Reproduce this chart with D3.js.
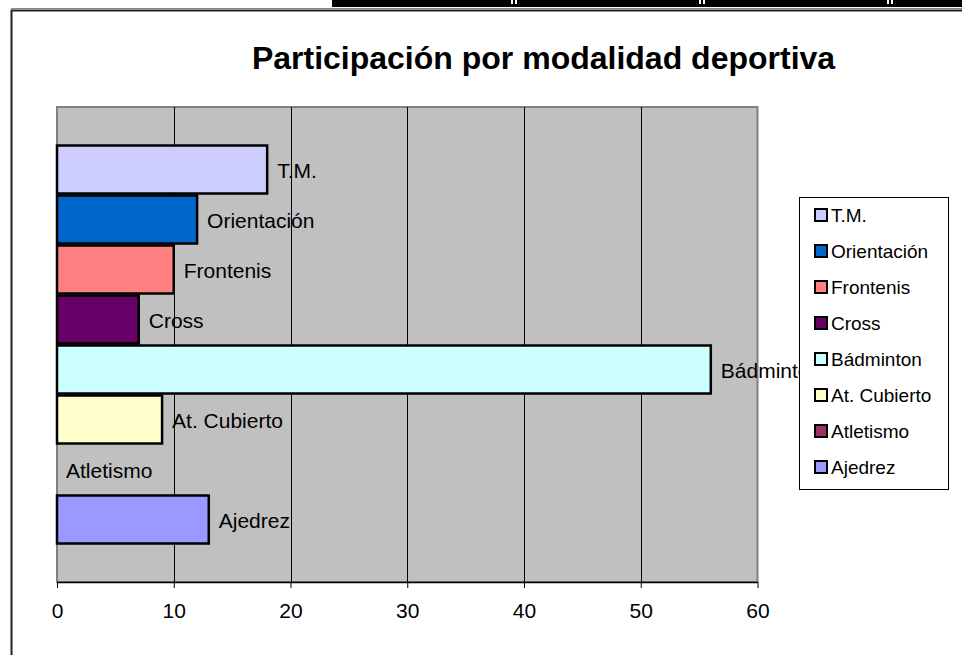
<!DOCTYPE html>
<html>
<head>
<meta charset="utf-8">
<script src="https://cdn.jsdelivr.net/npm/d3@7/dist/d3.min.js"></script>
<style>
  html, body { margin: 0; padding: 0; background: #fff; }
  svg { display: block; font-family: "Liberation Sans", Arial, sans-serif; }
</style>
</head>
<body>
<svg id="chart" width="962" height="655"></svg>
<script>
// ---- data (top-to-bottom order as drawn) ----
const categories = ["T.M.", "Orientación", "Frontenis", "Cross", "Bádminton", "At. Cubierto", "Atletismo", "Ajedrez"];
const values = [18, 12, 10, 7, 56, 9, 0, 13];
const colors = ["#CCCCFF", "#0066CC", "#FF8080", "#660066", "#CCFFFF", "#FFFFCC", "#993366", "#9999FF"];
const xTicks = [0, 10, 20, 30, 40, 50, 60];
const title = "Participación por modalidad deportiva";

const svg = d3.select("#chart");

// ---- page decoration: top table fragment and outer frame ----
svg.append("rect").attr("x", 332).attr("y", 0).attr("width", 630).attr("height", 7).attr("fill", "#000");
[514, 702, 890].forEach(d => {
  svg.append("rect").attr("x", d - 3).attr("y", 0).attr("width", 6).attr("height", 4).attr("fill", "#fff");
  svg.append("rect").attr("x", d - 1).attr("y", 0).attr("width", 2).attr("height", 7).attr("fill", "#000");
});
svg.append("line").attr("x1", 11).attr("x2", 962).attr("y1", 8.5).attr("y2", 8.5).attr("stroke", "#888").attr("stroke-width", 1);
svg.append("rect").attr("x", 11.5).attr("y", 10.5).attr("width", 1000).attr("height", 700)
  .attr("fill", "none").attr("stroke", "#222").attr("stroke-width", 2);

// ---- plot geometry ----
const plot = { left: 57, right: 757.5, top: 107, bottom: 582 };

const x = d3.scaleLinear().domain([0, 60]).range([plot.left, plot.right]);
const y = d3.scaleBand().domain(categories).range([plot.top, plot.bottom]).paddingInner(0).paddingOuter(0.75);

// background
svg.append("rect").attr("x", plot.left).attr("y", plot.top)
  .attr("width", plot.right - plot.left).attr("height", plot.bottom - plot.top)
  .attr("fill", "#C0C0C0").attr("stroke", "#808080").attr("stroke-width", 2);

// gridlines
svg.append("g").selectAll("line").data(xTicks.filter(t => t > 0 && t < 60)).join("line")
  .attr("x1", d => Math.round(x(d)) + 0.5).attr("x2", d => Math.round(x(d)) + 0.5)
  .attr("y1", plot.top).attr("y2", plot.bottom)
  .attr("stroke", "#000").attr("stroke-width", 1);

// bars
svg.append("g").selectAll("rect").data(categories.map((c, i) => ({ c, v: values[i], col: colors[i] })).filter(d => d.v > 0))
  .join("rect")
  .attr("x", x(0)).attr("y", d => y(d.c) + 1)
  .attr("width", d => x(d.v) - x(0)).attr("height", y.bandwidth() - 2)
  .attr("fill", d => d.col).attr("stroke", "#000").attr("stroke-width", 2.5);

// axis
const axis = d3.axisBottom(x).tickValues(xTicks).tickSize(6).tickPadding(8).tickFormat(d3.format("d"));
const gAxis = svg.append("g").attr("transform", `translate(0,${plot.bottom})`).call(axis);
gAxis.select(".domain").attr("stroke", "#000").attr("stroke-width", 1.5).attr("d", `M${plot.left},0.5H${plot.right}`);
gAxis.selectAll(".tick line").attr("stroke", "#000");
gAxis.selectAll(".tick text").attr("font-size", 21).attr("fill", "#000")
  .attr("font-family", "'Liberation Sans', Arial, sans-serif").attr("dy", "1.05em");

// data labels
svg.append("g").selectAll("text").data(categories.map((c, i) => ({ c, v: values[i] })))
  .join("text")
  .attr("x", d => x(d.v) + (d.v > 0 ? 10 : 9))
  .attr("y", d => y(d.c) + y.bandwidth() / 2 + 1)
  .attr("dy", "0.35em")
  .attr("font-size", 21).attr("fill", "#000")
  .text(d => d.c);

// title
svg.append("text").attr("x", 543.5).attr("y", 69).attr("text-anchor", "middle")
  .attr("font-size", 32).attr("font-weight", "bold").attr("fill", "#000").text(title);

// legend
const leg = { x: 799.5, y: 197.5, w: 149, h: 292, first: 215, step: 36 };
svg.append("rect").attr("x", leg.x).attr("y", leg.y).attr("width", leg.w).attr("height", leg.h)
  .attr("fill", "#fff").attr("stroke", "#000").attr("stroke-width", 1);
const li = svg.append("g").selectAll("g").data(categories.map((c, i) => ({ c, col: colors[i], i })))
  .join("g").attr("transform", d => `translate(0,${leg.first + d.i * leg.step})`);
li.append("rect").attr("x", 815).attr("y", -6).attr("width", 12).attr("height", 12)
  .attr("fill", d => d.col).attr("stroke", "#000").attr("stroke-width", 2);
li.append("text").attr("x", 831).attr("y", 0).attr("dy", "0.35em")
  .attr("font-size", 19).attr("fill", "#000").text(d => d.c);
</script>
</body>
</html>
